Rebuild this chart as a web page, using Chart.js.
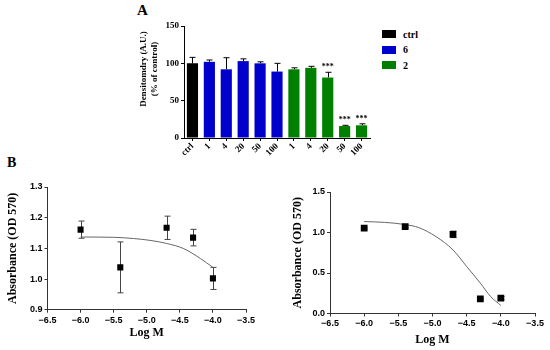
<!DOCTYPE html>
<html><head><meta charset="utf-8">
<script src="https://cdn.jsdelivr.net/npm/chart.js@4.4.1/dist/chart.umd.min.js"></script>
<style>
html,body{margin:0;padding:0;background:#fff;width:550px;height:350px;overflow:hidden;position:relative}
canvas{position:absolute}
.lbl{position:absolute;font-family:"Liberation Serif",serif;font-weight:bold;color:#000;line-height:1}
.leg{position:absolute;left:382px;font:bold 10px "Liberation Serif",serif;display:flex;align-items:center;height:10px;color:#000}
.leg i{display:inline-block;width:14px;height:8px;margin-right:7px}
</style></head>
<body>
<div class="lbl" style="left:137px;top:3px;font-size:15px">A</div>
<div class="lbl" style="left:7px;top:156px;font-size:14px">B</div>
<div id="legend"></div>
<canvas id="cA" width="290" height="175" style="left:100px;top:0px"></canvas>
<canvas id="cB1" width="280" height="180" style="left:0px;top:170px"></canvas>
<canvas id="cB2" width="270" height="180" style="left:280px;top:170px"></canvas>
<script>
// ---- Panel A data ----
const barLabels = ['ctrl','1','4','20','50','100','1','4','20','50','100'];
const barGroups = ['ctrl','6','6','6','6','6','2','2','2','2','2'];
const barValues = [100, 102, 92, 103, 100, 89, 92, 94, 81, 16, 17];
const barErrors = [8, 2.5, 15.5, 3, 2, 11, 2, 2, 7, 1, 2];
const barStars  = ['', '', '', '', '', '', '', '', '***', '***', '***'];
const groupNames  = ['ctrl', '6', '2'];
const groupColors = ['#000000', '#0000CC', '#008000'];
const yTitleA = ['Densitomdry (A.U.)', '(% of control)'];

// ---- Panel B data ----
const logConc  = [-6.0, -5.4, -4.7, -4.3, -4.0];
const absLeft  = [1.161, 1.038, 1.167, 1.135, 1.002];
const errLeft  = [0.028, 0.083, 0.038, 0.027, 0.036];
const fitLeftX = [-6.0, -5.5, -5.2, -4.95, -4.7, -4.44, -4.19, -4.0];
const fitLeftY = [1.137, 1.136, 1.132, 1.126, 1.116, 1.099, 1.067, 1.038];

const absRight  = [1.053, 1.072, 0.977, 0.18, 0.19];
const errRight  = [0.012, 0.012, 0.04, 0.012, 0.02];
const fitRightX = [-6.0, -5.7, -5.4, -5.2, -4.95, -4.7, -4.5, -4.3, -4.15, -4.0];
const fitRightY = [1.135, 1.125, 1.098, 1.06, 0.95, 0.785, 0.58, 0.375, 0.21, 0.10];

// ---- legend ----
const legEl = document.getElementById('legend');
groupNames.forEach((g, i) => {
  const d = document.createElement('div');
  d.className = 'leg';
  d.style.top = (29 + i * 15.5) + 'px';
  d.innerHTML = '<i style="background:' + groupColors[i] + '"></i>' + g;
  legEl.appendChild(d);
});

const serif = '"Liberation Serif", "Times New Roman", serif';
const sans = '"Liberation Sans", Arial, sans-serif';

function makeErrorPlugin(cfg) {
  return {
    id: 'errorBars',
    beforeDatasetsDraw(chart) {
      const meta = chart.getDatasetMeta(0);
      const ys = chart.scales.y;
      const ctx = chart.ctx;
      ctx.save();
      ctx.strokeStyle = cfg.color;
      ctx.lineWidth = cfg.width;
      meta.data.forEach((el, i) => {
        const v = cfg.values[i], e = cfg.errors[i];
        const x = Math.round(el.x) + 0.5;
        const top = ys.getPixelForValue(v + e);
        const bot = cfg.upOnly ? ys.getPixelForValue(v) : ys.getPixelForValue(v - e);
        ctx.beginPath();
        ctx.moveTo(x, bot); ctx.lineTo(x, top);
        ctx.moveTo(x - cfg.cap, top); ctx.lineTo(x + cfg.cap, top);
        if (!cfg.upOnly) { ctx.moveTo(x - cfg.cap, bot); ctx.lineTo(x + cfg.cap, bot); }
        ctx.stroke();
        if (cfg.stars && cfg.stars[i]) {
          ctx.fillStyle = '#000';
          ctx.font = 'bold 8px ' + serif;
          ctx.textAlign = 'center';
          ctx.textBaseline = 'bottom';
          ctx.fillText(cfg.stars[i], el.x, top - 1);
        }
      });
      ctx.restore();
    }
  };
}

// y-axis title of panel A (sits above the axis centre, as in the original)
const yTitlePlugin = {
  id: 'yTitleA',
  afterDraw(chart) {
    const ctx = chart.ctx;
    ctx.save();
    ctx.font = 'bold 9px ' + serif;
    ctx.fillStyle = '#000';
    ctx.textAlign = 'center';
    ctx.textBaseline = 'middle';
    const xs = [43.5, 54.5];
    yTitleA.forEach((t, i) => {
      ctx.save();
      ctx.translate(xs[i], 69);
      ctx.rotate(-Math.PI / 2);
      ctx.fillText(t, 0, 0);
      ctx.restore();
    });
    ctx.restore();
  }
};

const fmt1 = v => (v < 0 ? '\u2212' : '') + Math.abs(v).toFixed(1);

// ---- Panel A chart ----
new Chart(document.getElementById('cA'), {
  type: 'bar',
  data: {
    labels: barLabels,
    datasets: [{
      data: barValues,
      backgroundColor: barGroups.map(g => groupColors[groupNames.indexOf(g)]),
      borderWidth: 0,
      barPercentage: 0.66,
      categoryPercentage: 1.0
    }]
  },
  plugins: [makeErrorPlugin({values: barValues, errors: barErrors, upOnly: true, cap: 3, color: '#000', width: 1, stars: barStars}), yTitlePlugin],
  options: {
    responsive: false, animation: false, devicePixelRatio: 1, events: [],
    layout: { padding: { top: 26, right: 20, left: 0, bottom: 0 } },
    plugins: { legend: { display: false }, tooltip: { enabled: false } },
    scales: {
      x: {
        type: 'category',
        grid: { display: true, drawOnChartArea: false, drawTicks: true, tickLength: 3, offset: false, color: '#000' },
        border: { display: true, color: '#000', width: 1 },
        ticks: { autoSkip: false, minRotation: 45, maxRotation: 45, padding: 0, color: '#000', font: { family: serif, size: 9, weight: 'bold' } },
        afterFit: s => { s.height = 37; }
      },
      y: {
        min: 0, max: 150,
        ticks: { stepSize: 50, padding: 2, color: '#000', font: { family: serif, size: 9, weight: 'bold' } },
        grid: { display: true, drawOnChartArea: false, drawTicks: true, tickLength: 3, color: '#000' },
        border: { display: true, color: '#000', width: 1 },
        afterFit: s => { s.width = 84; }
      }
    }
  }
});

function doseChart(id, ys, errs, fitX, fitY, yMin, yMax, yStep, pad, yW, xH, ytPad, xtPad, markR) {
  return new Chart(document.getElementById(id), {
    type: 'scatter',
    data: {
      datasets: [
        { type: 'scatter', data: logConc.map((x, i) => ({x, y: ys[i]})), pointStyle: 'rect', pointRadius: markR,
          backgroundColor: '#000', borderColor: '#000', borderWidth: 0 },
        { type: 'line', data: fitX.map((x, i) => ({x, y: fitY[i]})), showLine: true, pointRadius: 0,
          borderColor: '#666', borderWidth: 1, cubicInterpolationMode: 'monotone', fill: false }
      ]
    },
    plugins: [makeErrorPlugin({values: ys, errors: errs, upOnly: false, cap: 3, color: '#444', width: 1})],
    options: {
      responsive: false, animation: false, devicePixelRatio: 1, events: [],
      layout: { padding: pad },
      plugins: { legend: { display: false }, tooltip: { enabled: false } },
      scales: {
        x: {
          type: 'linear', min: -6.5, max: -3.5,
          ticks: { stepSize: 0.5, padding: 2, color: '#000', font: { family: sans, size: 9, weight: 'bold' }, callback: v => fmt1(v) },
          grid: { display: true, drawOnChartArea: false, drawTicks: true, tickLength: 3, color: '#333' },
          border: { display: true, color: '#333', width: 1 },
          title: { display: true, text: 'Log M', color: '#000', font: { family: serif, size: 12, weight: 'bold', lineHeight: 1.2 }, padding: { top: 0, bottom: xtPad } },
          afterFit: s => { s.height = xH; }
        },
        y: {
          type: 'linear', min: yMin, max: yMax,
          ticks: { stepSize: yStep, padding: 2, color: '#000', font: { family: sans, size: 9, weight: 'bold' }, callback: v => fmt1(v) },
          grid: { display: true, drawOnChartArea: false, drawTicks: true, tickLength: 3, color: '#333' },
          border: { display: true, color: '#333', width: 1 },
          title: { display: true, text: 'Absorbance (OD 570)', color: '#000', font: { family: serif, size: 12, weight: 'bold', lineHeight: 1.2 }, padding: { top: ytPad, bottom: 0 } },
          afterFit: s => { s.width = yW; }
        }
      }
    }
  });
}

doseChart('cB1', absLeft, errLeft, fitLeftX, fitLeftY, 0.9, 1.3, 0.1,
  { top: 17, right: 34, left: 0, bottom: 0 }, 47.5, 40.3, 5.3, 9.8, 4.3);
doseChart('cB2', absRight, errRight, fitRightX, fitRightY, 0, 1.5, 0.5,
  { top: 22, right: 15, left: 0, bottom: 0 }, 50, 36.5, 11.1, 2.8, 4.8);
</script>
</body></html>
